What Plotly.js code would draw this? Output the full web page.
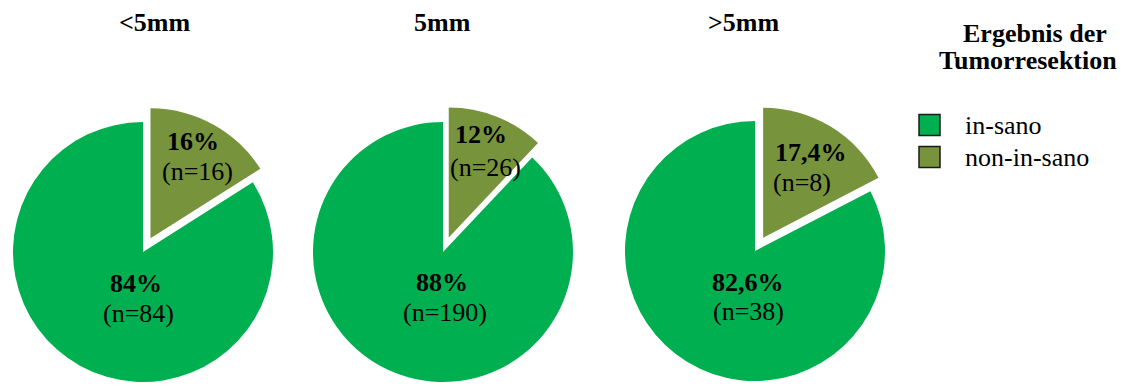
<!DOCTYPE html>
<html>
<head>
<meta charset="utf-8">
<script src="https://cdn.plot.ly/plotly-3.0.1.min.js"></script>
<style>
  html, body { margin: 0; padding: 0; overflow: hidden; background: #fff; }
  #chart { position: absolute; left: -20px; top: 0; }
</style>
</head>
<body>
<div id="chart"></div>
<script>
// Resection outcome by margin group
const groups = ['<5mm', '5mm', '>5mm'];
const outcomeLabels = ['non-in-sano', 'in-sano'];
const nonInSanoCounts = [16, 26, 8];
const inSanoCounts = [84, 190, 38];
const nonInSanoPct = ['16%', '12%', '17,4%'];
const inSanoPct = ['84%', '88%', '82,6%'];
const outcomeColors = ['#77933C', '#00B050'];
const legendTitle = ['Ergebnis der', 'Tumorresektion'];

// Layout geometry (figure pixels)
const FIG_W = 1148, FIG_H = 400, SHIFT = 20;
const R = 130, PULL = 0.12;
const BOX = 2 * R * (1 + PULL);
const pieCenters = [[143, 252], [443, 252], [755, 251]];
const titleX = [154, 442, 743];
// label anchor points per pie: [percent line, count line] for each slice
const smallSliceLabelPos = [[[193, 141], [197, 172]], [[481, 134], [485, 167]], [[811, 152], [802, 182]]];
const bigSliceLabelPos = [[[136, 283], [138, 313]], [[442, 282], [445, 312]], [[748, 282], [748, 311]]];

const FONT = '"Liberation Serif", "Times New Roman", serif';
const BLACK = '#000';

const px = x => (x + SHIFT) / FIG_W;
const py = y => 1 - y / FIG_H;
const esc = s => s.replace(/</g, '&lt;').replace(/>/g, '&gt;');

const traces = groups.map((g, i) => {
  const [cx, cy] = pieCenters[i];
  return {
    type: 'pie',
    name: g,
    labels: outcomeLabels,
    values: [nonInSanoCounts[i], inSanoCounts[i]],
    textinfo: 'none',
    marker: { colors: outcomeColors, line: { width: 0 } },
    pull: [PULL, 0],
    sort: false,
    direction: 'clockwise',
    rotation: 0,
    hoverinfo: 'skip',
    showlegend: false,
    domain: {
      x: [px(cx - BOX / 2), px(cx + BOX / 2)],
      y: [py(cy + BOX / 2), py(cy - BOX / 2)]
    }
  };
});

const txt = (text, x, y, anchor) => ({
  text: text, x: px(x), y: py(y),
  xref: 'paper', yref: 'paper',
  xanchor: anchor || 'center', yanchor: 'middle',
  showarrow: false,
  font: { family: FONT, size: 26, color: BLACK }
});

const annotations = [];
groups.forEach((g, i) => {
  annotations.push(txt('<b>' + esc(g) + '</b>', titleX[i], 22));
  const s = smallSliceLabelPos[i], b = bigSliceLabelPos[i];
  annotations.push(txt('<b>' + nonInSanoPct[i] + '</b>', s[0][0], s[0][1]));
  annotations.push(txt('(n=' + nonInSanoCounts[i] + ')', s[1][0], s[1][1]));
  annotations.push(txt('<b>' + inSanoPct[i] + '</b>', b[0][0], b[0][1]));
  annotations.push(txt('(n=' + inSanoCounts[i] + ')', b[1][0], b[1][1]));
});

// legend block: title lines, swatches and entry names
annotations.push(txt('<b>' + legendTitle[0] + '</b>', 1035, 33));
annotations.push(txt('<b>' + legendTitle[1] + '</b>', 1028, 60));
const legendOrder = [1, 0];
const legendRowY = [125, 157];
const shapes = [];
legendOrder.forEach((k, row) => {
  const y = legendRowY[row];
  shapes.push({
    type: 'rect', xref: 'paper', yref: 'paper',
    x0: px(919), x1: px(940), y0: py(y - 10.5), y1: py(y + 10.5),
    fillcolor: outcomeColors[k],
    line: { color: '#1a1a1a', width: 1.5 }
  });
  annotations.push(txt(outcomeLabels[k], 963, y, 'left'));
});

const layout = {
  width: FIG_W, height: FIG_H,
  margin: { l: 0, r: 0, t: 0, b: 0 },
  paper_bgcolor: '#fff',
  plot_bgcolor: '#fff',
  font: { family: FONT, size: 26, color: BLACK },
  showlegend: false,
  annotations: annotations,
  shapes: shapes
};

Plotly.newPlot('chart', traces, layout, { displayModeBar: false, staticPlot: true });
</script>
</body>
</html>
